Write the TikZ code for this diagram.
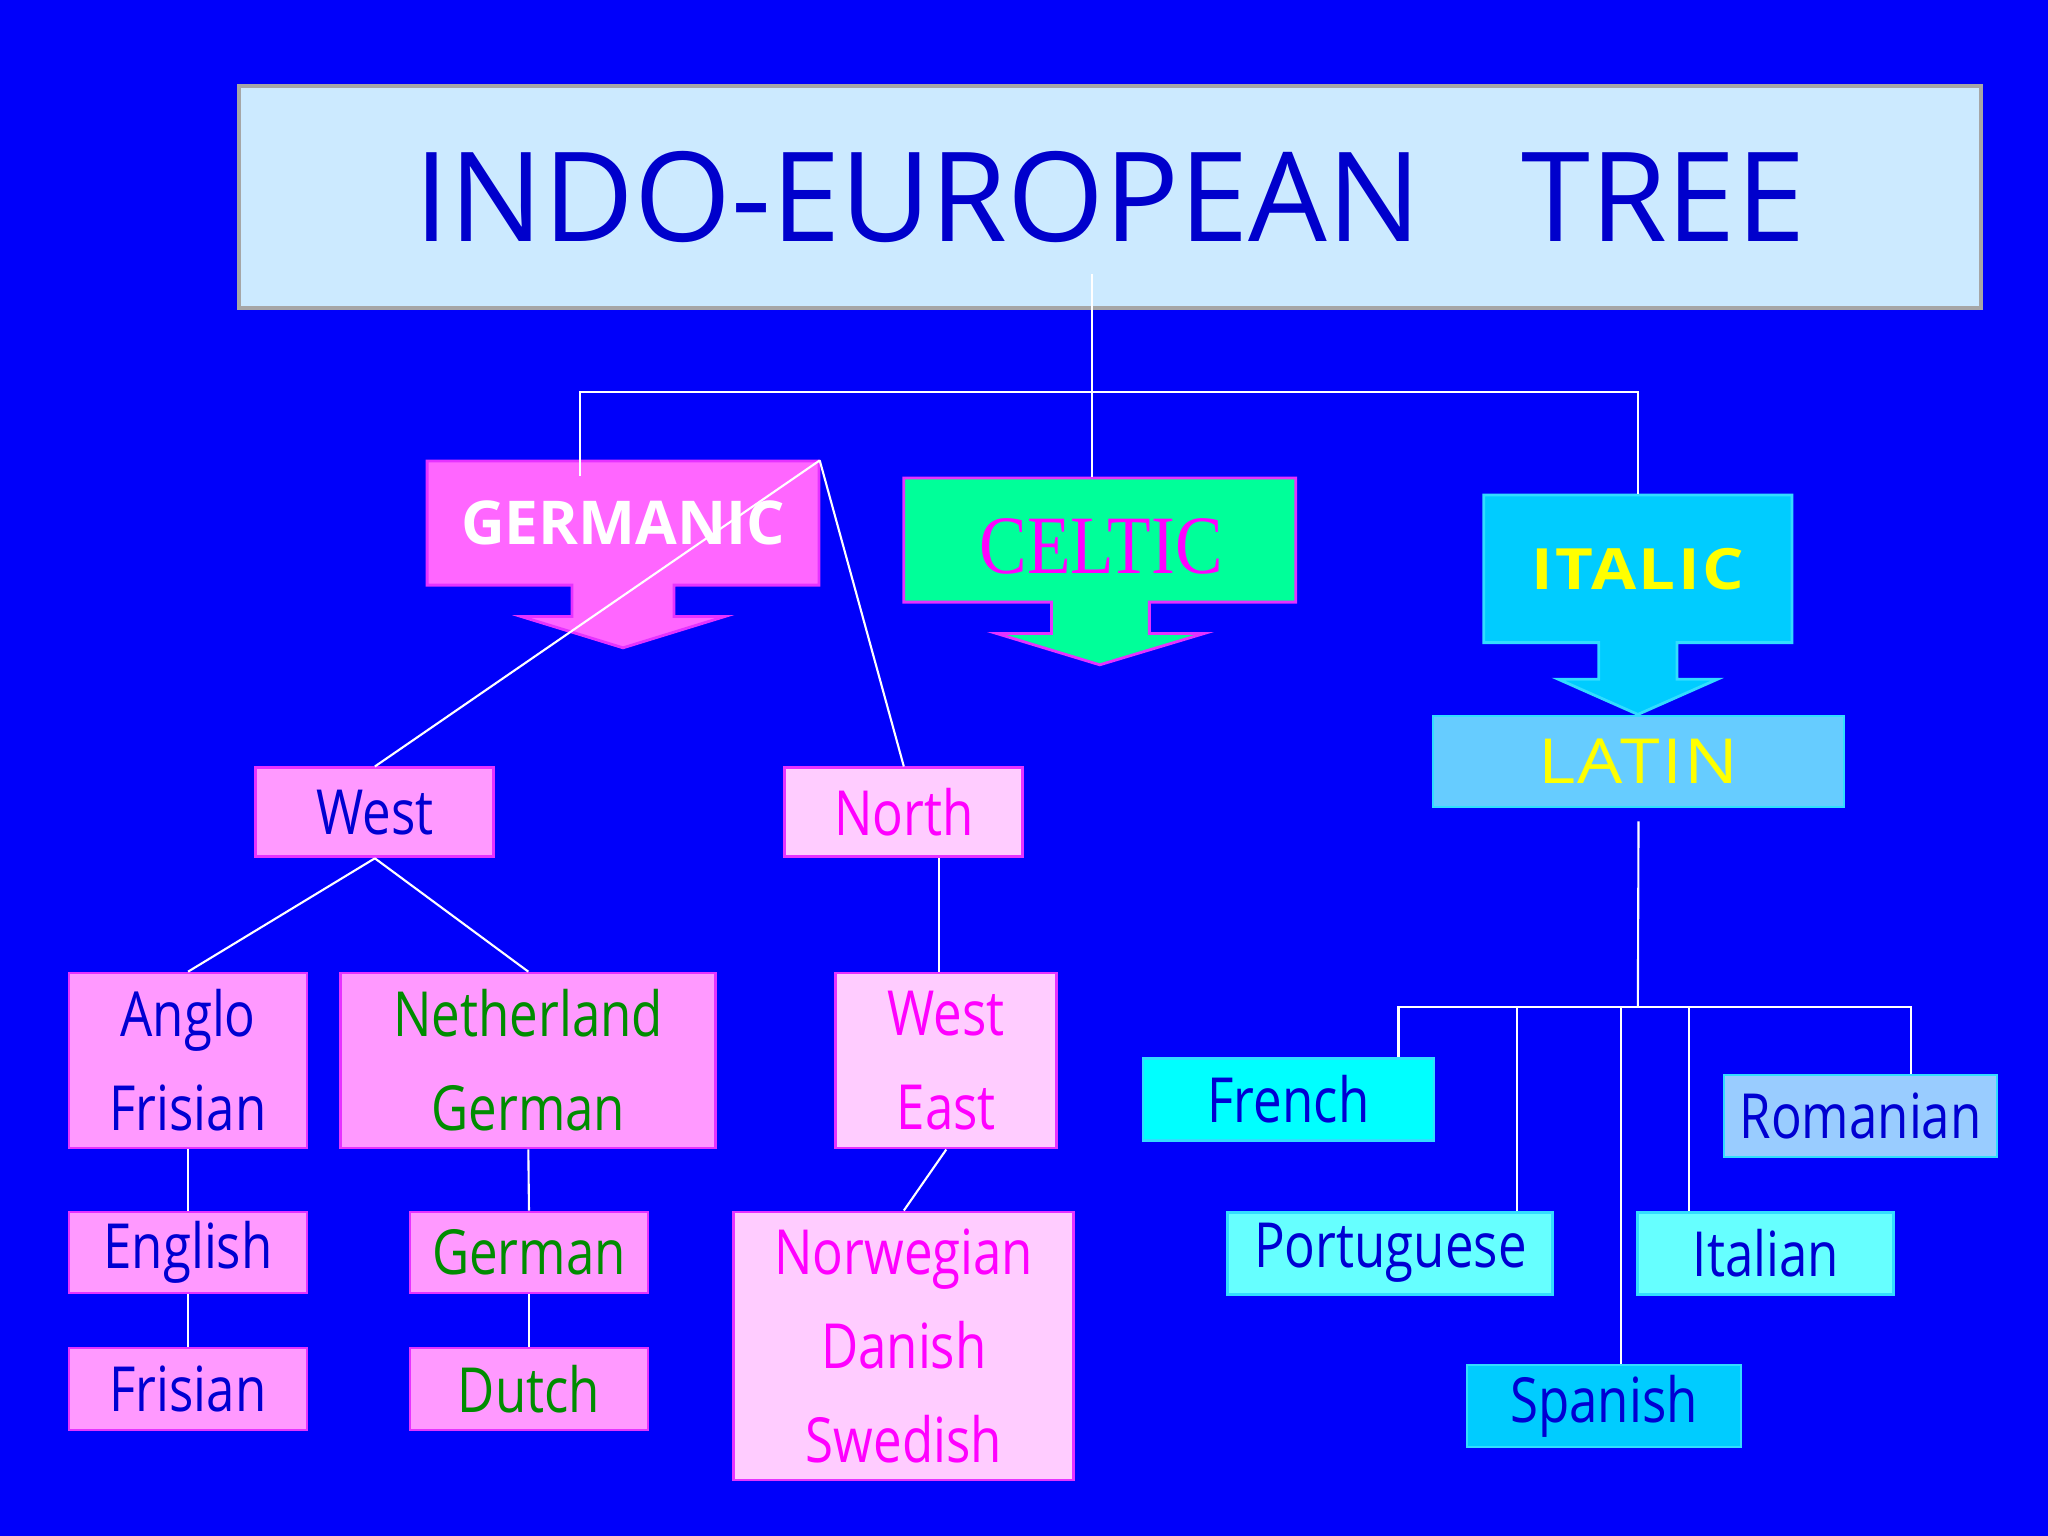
\documentclass[tikz,border=0pt]{standalone}
\usepackage{fontspec}
\setmainfont[FakeStretch=0.82]{Open Sans}
\newfontfamily\capsfont{Open Sans}
\newfontfamily\spacedfont[FakeStretch=1.15, LetterSpace=4]{Open Sans}
\newfontfamily\celticfont[FakeStretch=0.86]{Liberation Serif}
\definecolor{slideblue}{RGB}{0,0,250}
\definecolor{titlefill}{RGB}{204,234,255}
\definecolor{titletext}{RGB}{0,0,204}
\definecolor{langblue}{RGB}{0,0,210}
\definecolor{langgreen}{RGB}{0,140,0}
\definecolor{langmagenta}{RGB}{255,0,255}
\definecolor{langyellow}{RGB}{255,255,0}
\definecolor{germfill}{RGB}{255,102,255}
\definecolor{pinkfill}{RGB}{255,153,255}
\definecolor{palepink}{RGB}{255,204,255}
\definecolor{pinkline}{RGB}{230,50,255}
\definecolor{celtfill}{RGB}{0,255,153}
\definecolor{italfill}{RGB}{0,204,255}
\definecolor{latinfill}{RGB}{102,204,255}
\definecolor{cyanline}{RGB}{51,220,255}
\definecolor{frenchfill}{RGB}{0,255,255}
\definecolor{romfill}{RGB}{153,204,255}
\definecolor{lightcyan}{RGB}{102,255,255}
\tikzset{%
    langbox/.style={%
        draw, line width=0.8pt, inner sep=0pt, align=center,
        font=\fontsize{17.7}{26.8}\selectfont
    },
    germbox/.style={langbox, fill=pinkfill, draw=pinkline},
    nordbox/.style={langbox, fill=palepink, draw=pinkline, text=langmagenta},
    romancebox/.style={langbox, draw=cyanline, text=langblue},
    blockarrow/.style={line width=0.8pt, line join=miter},
    link/.style={white, line width=0.6pt}
}

\begin{document}
\begin{tikzpicture}[x=0.013061cm, y=-0.013061cm]

    \fill[slideblue] (0, 0) rectangle (1568, 1176);

    % Title
    \node[fill=titlefill, draw=gray!70, line width=1pt,
          minimum width=17.42cm, minimum height=2.22cm,
          text=titletext] (title) at (850, 151)
        {\capsfont\fontsize{35.4}{40}\selectfont INDO-EUROPEAN\hspace{1.0cm}TREE};
    \coordinate (trunk) at (836, 210);


    %%% Branches
    % Germanic
    \filldraw[blockarrow, fill=germfill, draw=pinkline]
        (327, 353) -- (627, 353) -- (627, 448) -- (516, 448) --
        (516, 472) -- (555, 472) -- (477, 496) -- (399, 472) --
        (438, 472) -- (438, 448) -- (327, 448) -- cycle;
    \node[minimum width=3.92cm, minimum height=1.24cm, text=white,
          font=\capsfont\bfseries\fontsize{17.2}{20}\selectfont] (germanic)
        at (477, 400.5) {GERMANIC};

    % Celtic
    \filldraw[blockarrow, fill=celtfill, draw=pinkline]
        (692, 366) -- (992, 366) -- (992, 461) -- (880, 461) --
        (880, 485) -- (922, 485) -- (842, 509) -- (763, 485) --
        (805, 485) -- (805, 461) -- (692, 461) -- cycle;
    \node[minimum width=3.92cm, minimum height=1.37cm, text=langmagenta,
          font=\celticfont\fontsize{23.6}{26}\selectfont] (celtic)
        at (843, 418.5) {CELTIC};

    % Italic
    \filldraw[blockarrow, fill=italfill, draw=cyanline]
        (1136, 379) -- (1372, 379) -- (1372, 492) -- (1284, 492) --
        (1284, 520) -- (1315, 520) -- (1254, 547) -- (1193, 520) --
        (1224, 520) -- (1224, 492) -- (1136, 492) -- cycle;
    \node[minimum width=3.08cm, minimum height=1.48cm, text=langyellow,
          font=\spacedfont\bfseries\fontsize{16.2}{20}\selectfont] (italic)
        at (1254, 435.5) {ITALIC};

    \node[langbox, fill=latinfill, draw=cyanline, text=langyellow,
          font=\spacedfont\fontsize{17.7}{20}\selectfont,
          minimum width=4.11cm, minimum height=0.91cm] (latin)
        at (1254.5, 583) {LATIN};

    \coordinate (branch) at (836, 300);
    \draw[link] (trunk) -- (trunk |- celtic.north);
    \draw[link] ([shift={(-33, 12)}] germanic.north) |- (branch)
        -| (italic.north);


    %%% Germanic languages
    \node[germbox, text=langblue, minimum width=2.38cm, minimum height=0.89cm]
        (west) at (287, 622) {West};
    \node[nordbox, minimum width=2.38cm, minimum height=0.89cm]
        (north) at (692, 622) {North};

    \node[germbox, text=langblue, minimum width=2.38cm, minimum height=1.75cm]
        (anglo-frisian) at (144, 812) {Anglo\\Frisian};
    \node[germbox, text=langgreen, minimum width=3.75cm, minimum height=1.75cm]
        (neth-german) at (404.5, 812) {Netherland\\German};
    \node[nordbox, minimum width=2.21cm, minimum height=1.75cm]
        (west-east) at (724.5, 812) {West\\East};

    \node[germbox, text=langblue, minimum width=2.38cm, minimum height=0.81cm]
        (english) at (144, 959) {English};
    \node[germbox, text=langblue, minimum width=2.38cm, minimum height=0.82cm]
        (frisian) at (144, 1063.5) {Frisian};
    \node[germbox, text=langgreen, minimum width=2.38cm, minimum height=0.81cm]
        (german) at (405, 959) {German};
    \node[germbox, text=langgreen, minimum width=2.38cm, minimum height=0.82cm]
        (dutch) at (405, 1063.5) {Dutch};
    \node[nordbox, minimum width=3.40cm, minimum height=2.68cm]
        (nordic) at (692, 1030.5) {Norwegian\\Danish\\Swedish};

    \draw[link] (germanic.north east) -- (west.north);
    \draw[link] (germanic.north east) -- (north.north);
    \draw[link] (west.south) -- (anglo-frisian.north);
    \draw[link] (west.south) -- (neth-german.north);
    \draw[link] ([xshift=-0.07cm] west-east.north)
        -- ([xshift=-0.07cm] west-east.north |- north.south);
    \draw[link] (anglo-frisian.south) -- (english.north);
    \draw[link] (english.south) -- (frisian.north);
    \draw[link] (neth-german.south) -- (german.north);
    \draw[link] (german.south) -- (dutch.north);
    \draw[link] (west-east.south) -- (nordic.north);


    %%% Romance languages
    \node[romancebox, fill=frenchfill, minimum width=2.91cm, minimum height=0.82cm]
        (french) at (986.5, 841.5) {French};
    \node[romancebox, fill=romfill, minimum width=2.73cm, minimum height=0.82cm]
        (romanian) at (1424.5, 854.5) {Romanian};
    \node[romancebox, fill=lightcyan, minimum width=3.25cm, minimum height=0.82cm]
        (portuguese) at (1064.5, 959.5) {Portuguese};
    \node[romancebox, fill=lightcyan, minimum width=2.56cm, minimum height=0.82cm]
        (italian) at (1352, 959.5) {Italian};
    \node[romancebox, fill=italfill, minimum width=2.74cm, minimum height=0.82cm]
        (spanish) at (1228, 1076.5) {Spanish};

    \coordinate (romance) at (1254, 771);
    \draw[link] ([yshift=-0.13cm] latin.south) -- (romance);
    \draw[link] ([xshift=1.10cm] french.north) |- (romance)
        -| ([xshift=0.50cm] romanian.north);
    \foreach \lang/\dx in {portuguese/1.27, spanish/0.17, italian/-0.77}{%
        \draw[link] ([xshift=\dx cm] \lang.north)
            -- ([xshift=\dx cm] \lang.north |- romance);
    };

\end{tikzpicture}
\end{document}
